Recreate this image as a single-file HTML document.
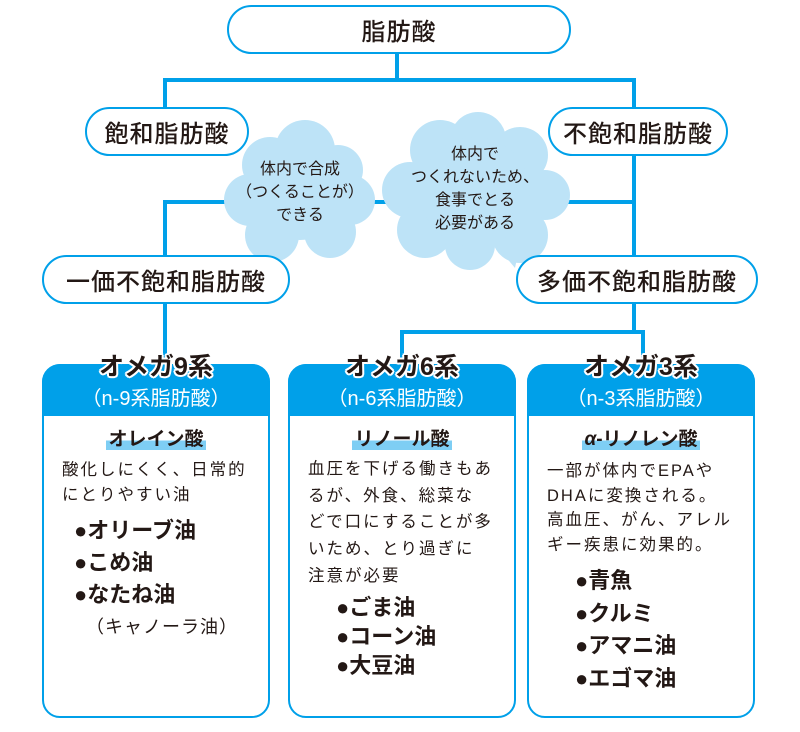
<!DOCTYPE html>
<html><head><meta charset="utf-8"><style>
body{margin:0;width:800px;height:732px;background:#fff;position:relative;overflow:hidden;font-family:"Liberation Sans","Noto Sans CJK JP",sans-serif;color:#231815}
.a{position:absolute}
.n{position:absolute;border:2px solid #00a0e9;border-radius:26px;background:#fff;box-sizing:border-box;display:flex;align-items:center;justify-content:center;font-size:24px;font-weight:500;letter-spacing:1px}
.box{position:absolute;top:364px;height:354px;border:2px solid #00a0e9;border-radius:18px;box-sizing:border-box;overflow:visible;background:#fff}
.hd{position:absolute;left:-2px;right:-2px;top:-2px;height:52px;background:#00a0e9;border-radius:18px 18px 0 0}
.tt{position:absolute;left:0;right:0;text-align:center;font-size:25px;font-weight:bold;color:#231815;top:-19px;text-shadow:2px 0 #fff,-2px 0 #fff,0 2px #fff,0 -2px #fff,1.5px 1.5px #fff,-1.5px -1.5px #fff,1.5px -1.5px #fff,-1.5px 1.5px #fff}
.st{position:absolute;left:0;right:0;text-align:center;top:16px;font-size:20px;color:#fff}
.lb{position:absolute;left:0;right:0;text-align:center;top:58px;font-size:19px;font-weight:bold}
.lb span{background:linear-gradient(transparent 55%,#7ecef4 55%);padding:0 2px}
.tx{position:absolute;font-size:16.5px;letter-spacing:2px}
.bl{position:absolute;font-size:22px;font-weight:bold}
</style></head><body>
<svg class="a" style="left:0;top:0" width="800" height="732">
<g stroke="#00a0e9" stroke-width="4" fill="none">
<path d="M397 50V80M165 80H634M165 78V110M634 78V110"/>
<path d="M165 202H634M165 200V258M634 150V258"/>
<path d="M165 300V366M634 300V332M400 332H645M402 330V366M643 330V366"/>
</g>
<g fill="#bde3f7">
<circle cx="270" cy="165" r="28"/><circle cx="305" cy="150" r="30"/><circle cx="338" cy="170" r="25"/>
<circle cx="250" cy="200" r="26"/><circle cx="350" cy="200" r="25"/><circle cx="272" cy="235" r="27"/>
<circle cx="330" cy="232" r="26"/><circle cx="300" cy="195" r="45"/>
<path d="M265 245L270 262L285 250Z"/>
<circle cx="440" cy="150" r="30"/><circle cx="478" cy="140" r="28"/><circle cx="520" cy="155" r="28"/>
<circle cx="410" cy="190" r="28"/><circle cx="545" cy="195" r="25"/><circle cx="425" cy="230" r="28"/>
<circle cx="520" cy="235" r="28"/><circle cx="470" cy="245" r="25"/><circle cx="475" cy="192" r="55"/>
<path d="M500 250L515 268L520 245Z"/>
</g>
</svg>
<div class="n" style="left:227px;top:5px;width:344px;height:49px">脂肪酸</div>
<div class="n" style="left:85px;top:107px;width:164px;height:49px">飽和脂肪酸</div>
<div class="n" style="left:548px;top:107px;width:180px;height:49px">不飽和脂肪酸</div>
<div class="n" style="left:42px;top:255px;width:248px;height:49px">一価不飽和脂肪酸</div>
<div class="n" style="left:516px;top:255px;width:242px;height:49px">多価不飽和脂肪酸</div>
<div class="a" style="left:225px;top:158px;width:150px;text-align:center;font-size:16px;line-height:23px">体内で合成<br>（つくることが）<br>できる</div>
<div class="a" style="left:395px;top:143px;width:160px;text-align:center;font-size:16px;line-height:23px">体内で<br>つくれないため、<br>食事でとる<br>必要がある</div>

<div class="box" style="left:42px;width:228px">
<div class="hd"></div><div class="tt">オメガ9系</div><div class="st">（n-9系脂肪酸）</div>
<div class="lb"><span>オレイン酸</span></div>
<div class="tx" style="left:18px;top:92px;line-height:25px">酸化しにくく、日常的<br>にとりやすい油</div>
<div class="bl" style="left:30px;top:149px;line-height:32px">●オリーブ油<br>●こめ油<br>●なたね油</div>
<div class="tx" style="left:42px;top:247px;font-size:18px;letter-spacing:1px">（キャノーラ油）</div>
</div>

<div class="box" style="left:288px;width:228px">
<div class="hd"></div><div class="tt">オメガ6系</div><div class="st">（n-6系脂肪酸）</div>
<div class="lb"><span>リノール酸</span></div>
<div class="tx" style="left:18px;top:90px;line-height:26.7px">血圧を下げる働きもあ<br>るが、外食、総菜な<br>どで口にすることが多<br>いため、とり過ぎに<br>注意が必要</div>
<div class="bl" style="left:46px;top:227px;line-height:29px">●ごま油<br>●コーン油<br>●大豆油</div>
</div>

<div class="box" style="left:527px;width:228px">
<div class="hd"></div><div class="tt">オメガ3系</div><div class="st">（n-3系脂肪酸）</div>
<div class="lb"><span><i>α</i>-リノレン酸</span></div>
<div class="tx" style="left:18px;top:93px;line-height:24.5px">一部が体内でEPAや<br>DHAに変換される。<br>高血圧、がん、アレル<br>ギー疾患に効果的。</div>
<div class="bl" style="left:46px;top:199px;line-height:32.5px">●青魚<br>●クルミ<br>●アマニ油<br>●エゴマ油</div>
</div>
</body></html>
